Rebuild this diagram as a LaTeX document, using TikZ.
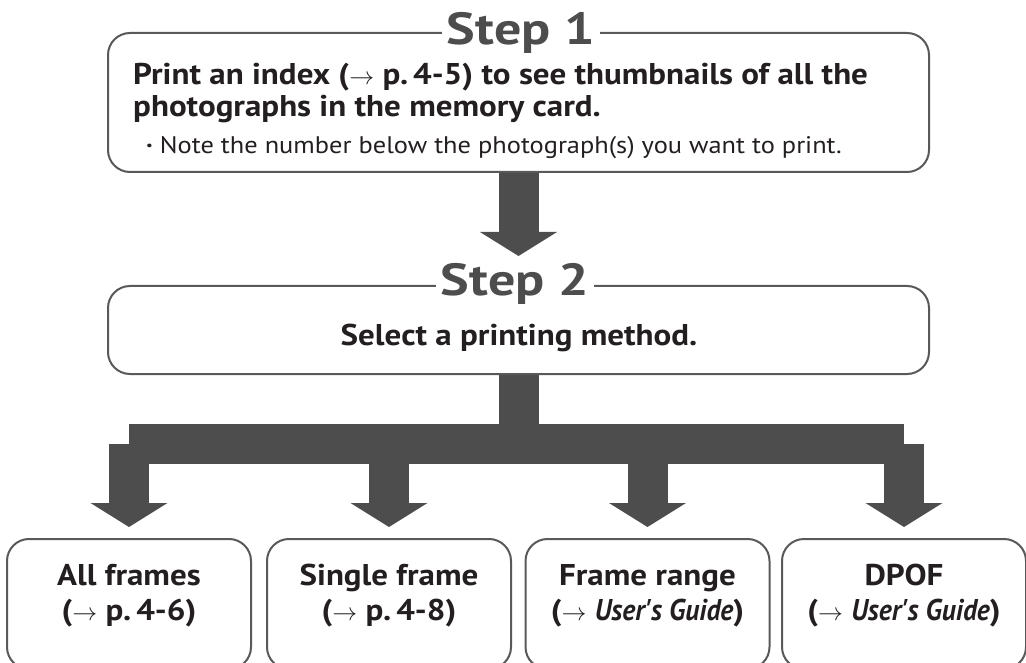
\documentclass[tikz,border=0pt]{standalone}
\usepackage{fontspec}
\setmainfont{PT Sans}[FakeStretch=1.1]
\newfontfamily\stepfont{PT Sans}[FakeStretch=1.2]
\newfontfamily\guidefont{PT Sans}[FakeStretch=0.92]
\usepackage{tikz}
\usetikzlibrary{arrows.meta,positioning}
\definecolor{framegray}{HTML}{595959}
\definecolor{fatgray}{HTML}{4D4D4D}
\definecolor{ink}{HTML}{231F20}
\tikzset{
  box/.style={draw=framegray, line width=2pt, rounded corners=22pt, inner sep=0pt},
  stepbox/.style={box, minimum width=821pt},
  pickbox/.style={box, minimum width=244pt, minimum height=130pt},
  steplbl/.style={fill=white, text=fatgray, font=\stepfont\fontsize{45}{45}\selectfont\bfseries, inner xsep=5pt, inner ysep=0pt, anchor=base},
  htxt/.style={text=ink, font=\fontsize{30}{30}\selectfont\bfseries, inner sep=0pt},
  ntxt/.style={text=ink, font=\fontsize{24}{24}\selectfont, inner sep=0pt},
  btxt/.style={htxt, anchor=base},
  bar/.style={fatgray, line width=40pt},
  fat/.style={bar, -{Triangle[width=77pt,length=24pt,line width=0pt]}}
}
\newcommand{\seeref}{$\rightarrow$}
\newcommand{\guide}{{\guidefont\bfseries\itshape User\textquotesingle s Guide}}

\begin{document}
\begin{tikzpicture}[x=1pt,y=-1pt]
\useasboundingbox (0,0) rectangle (1026,663);
\clip (0,0) rectangle (1026,663);
% frames
\node[stepbox, minimum height=139pt] (s1) at (518.5,102.5) {};
\node[stepbox, minimum height=88pt] (s2) at (518.5,330) {};
\node[pickbox] (a) at (129,604) {};
\node[pickbox] (b) at (389,604) {};
\node[pickbox] (c) at (647.5,604) {};
\node[pickbox] (d) at (904,604) {};
% thick arrows
\coordinate (tip1) at (518.5,256);
\coordinate (fork) at (518.5,444);
\draw[fat] (s1.south) -- (tip1);
\draw[bar] (s2.south) -- (fork);
\draw[bar] (a.north |- fork) -- (d.north |- fork);
\draw[fat, shorten >=11pt] (a.north |- fork) -- (a.north);
\draw[fat, shorten >=11pt] (b.north |- fork) -- (b.north);
\draw[fat, shorten >=11pt] (c.north |- fork) -- (c.north);
\draw[fat, shorten >=11pt] (d.north |- fork) -- (d.north);
% step titles
\node[steplbl] (st1) at (521,45) {Step 1};
\node[steplbl] (st2) at (515,296) {Step 2};
% texts
\node[htxt, anchor=base west] (l1) at (133,85) {Print an index (\seeref\ p.\,4-5) to see thumbnails of all the};
\node[htxt, anchor=base west] (l2) at (133,117) {photographs in the memory card.};
\node[ntxt, anchor=base west] (l3) at (146,154) {\textbf{\textperiodcentered}\ Note the number below the photograph(s) you want to print.};
\node[htxt, anchor=base] (sel) at (519,345) {Select a printing method.};
\node[btxt] (a1) at (129,585) {All frames};
\node[btxt] (a2) at (129,620) {(\seeref\ p.\,4-6)};
\node[btxt] (b1) at (389,585) {Single frame};
\node[btxt] (b2) at (389,620) {(\seeref\ p.\,4-8)};
\node[btxt] (c1) at (647.5,585) {Frame range};
\node[btxt] (c2) at (647.5,620) {(\seeref\ \guide)};
\node[btxt] (d1) at (904,585) {DPOF};
\node[btxt] (d2) at (904,620) {(\seeref\ \guide)};
\end{tikzpicture}
\end{document}
